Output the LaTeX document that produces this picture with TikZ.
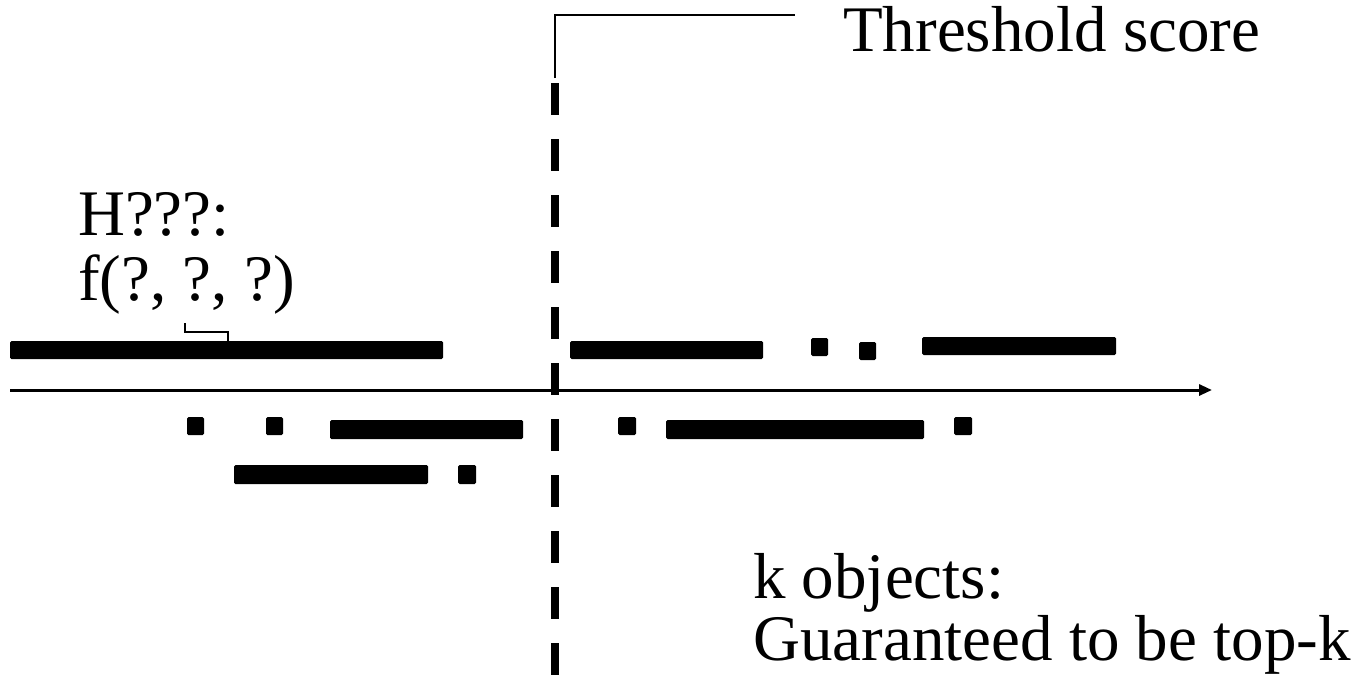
\documentclass[tikz,border=0pt]{standalone}
\usepackage{fontspec}
\setmainfont{Liberation Serif}
\usetikzlibrary{arrows.meta}
\begin{document}
\begin{tikzpicture}[x=1pt,y=-1pt,
  lbl/.style={anchor=base west,inner sep=0pt,font=\fontsize{65}{78}\selectfont},
  seg/.style={fill=black,rounded corners=1.5pt},
  thin/.style={line width=2pt}]
\useasboundingbox (0,0) rectangle (1365,677);
% score axis
\coordinate (ax0) at (10,390);
\coordinate (ax1) at (1212,390);
\draw[line width=3pt,-{Triangle[length=13pt,width=11pt]}] (ax0) -- (ax1);
% threshold
\coordinate (th0) at (555,83);
\coordinate (th1) at (555,675);
\draw[line width=8pt,dash pattern=on 32pt off 24pt] (th0) -- (th1);
% labels
\node[lbl] (thr) at (843,52) {Threshold score};
\node[lbl] (hh) at (78,235) {H???:};
\node[lbl] (ff) at (78,300) {f(?, ?, ?)};
\node[lbl] (ko) at (753,598) {k objects:};
\node[lbl] (gt) at (753,660) {Guaranteed to be top-k};
% leader to the threshold label
\coordinate (thtop) at (555,78);
\coordinate (thend) at (795,15);
\draw[thin] (thtop) |- (thend);
% object intervals above the axis
\fill[seg] (10,341) rectangle (443,359);
\fill[seg] (570,341) rectangle (763,359);
\fill[seg] (811,338) rectangle (828,356);
\fill[seg] (859,342) rectangle (876,360);
\fill[seg] (922,337) rectangle (1116,355);
% object intervals below the axis
\fill[seg] (187,417) rectangle (204,435);
\fill[seg] (266,417) rectangle (283,435);
\fill[seg] (330,420) rectangle (523,439);
\fill[seg] (234,465) rectangle (428,484);
\fill[seg] (458,465) rectangle (476,484);
\fill[seg] (618,417) rectangle (636,435);
\fill[seg] (666,420) rectangle (924,439);
\fill[seg] (954,417) rectangle (972,435);
% bracket from the formula to the first interval
\coordinate (br0) at (185,323);
\coordinate (br1) at (228,341);
\draw[thin] (br0) -- (185,332) -| (br1);
\end{tikzpicture}
\end{document}
